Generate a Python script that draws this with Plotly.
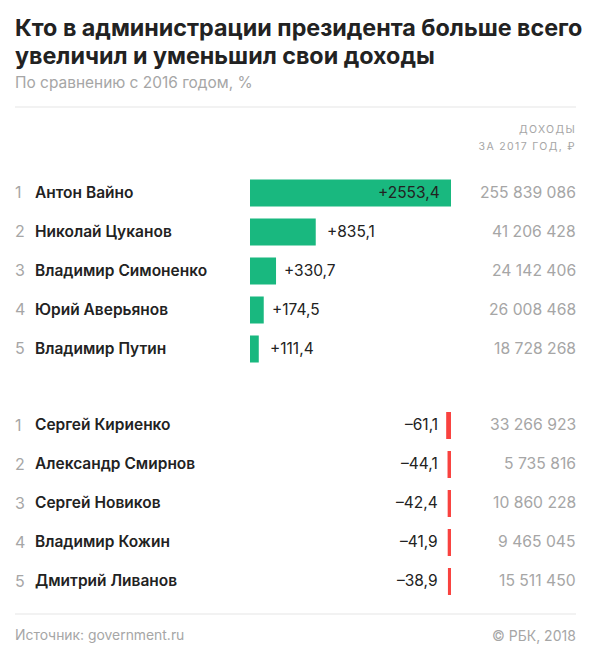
import plotly.graph_objects as go

W, H = 590, 655
TITLE_LINE_1 = "Кто в администрации президента больше всего"
TITLE_LINE_2 = "увеличил и уменьшил свои доходы"
SUBTITLE = "По сравнению с 2016 годом, %"
up_names = ["Антон Вайно", "Николай Цуканов", "Владимир Симоненко", "Юрий Аверьянов", "Владимир Путин"]
up_values = [2553.4, 835.1, 330.7, 174.5, 111.4]
up_labels = ["+2553,4", "+835,1", "+330,7", "+174,5", "+111,4"]
up_income = ["255 839 086", "41 206 428", "24 142 406", "26 008 468", "18 728 268"]
down_names = ["Сергей Кириенко", "Александр Смирнов", "Сергей Новиков", "Владимир Кожин", "Дмитрий Ливанов"]
down_values = [-61.1, -44.1, -42.4, -41.9, -38.9]
down_labels = ["–61,1", "–44,1", "–42,4", "–41,9", "–38,9"]
down_income = ["33 266 923", "5 735 816", "10 860 228", "9 465 045", "15 511 450"]
ranks = ["1", "2", "3", "4", "5"]
HEAD_1, HEAD_2 = "ДОХОДЫ", "ЗА 2017 ГОД, ₽"

FONT = "Inter"
GREEN, RED = "#19b87f", "#f9423f"
DARK, GREY, LIGHT = "#222222", "#a6a6a6", "#eeeeee"
px_x = lambda p: p / W
px_y = lambda p: 1 - p / H

fig = go.Figure()
fig.add_bar(y=up_names, x=up_values, orientation="h", marker_color=GREEN, marker_line_width=0,
            width=27 / 39, xaxis="x", yaxis="y", hoverinfo="skip")
fig.add_bar(y=down_names, x=down_values, orientation="h", marker_color=RED, marker_line_width=0,
            width=27 / 39, xaxis="x2", yaxis="y2", hoverinfo="skip")

ann = []
def text(x, y, t, size, color, anchor="left", weight=400, xref="paper", yref="paper", xshift=0, yshift=0):
    ann.append(dict(x=x, y=y, text=t, xref=xref, yref=yref, xanchor=anchor, yanchor="middle", showarrow=False,
                    xshift=xshift, yshift=yshift, borderpad=0, borderwidth=0,
                    font=dict(family=FONT, size=size, color=color, weight=weight)))

for suffix, names, income in (("", up_names, up_income), ("2", down_names, down_income)):
    for r, n, inc in zip(ranks, names, income):
        yr = "y" + suffix
        text(px_x(15), n, r, 16, GREY, yref=yr, yshift=1)
        text(px_x(35), n, n, 15.5, DARK, weight=600, yref=yr, yshift=1)
        text(px_x(576), n, inc, 15.7, GREY, anchor="right", yref=yr, yshift=1)

up_gaps = [-11, 11, 8, 8, 11]
for i, (n, v, l) in enumerate(zip(up_names, up_values, up_labels)):
    text(v, n, l, 15.5, DARK, anchor="right" if i == 0 else "left", xref="x", yref="y", xshift=up_gaps[i], yshift=1)
for n, l in zip(down_names, down_labels):
    text(0, n, l, 15.5, DARK, anchor="right", xref="x2", yref="y2", xshift=-13, yshift=1)

# letter-spaced column heading: the extra width is added symmetrically around the text centre
SPACING = 1.35
text(px_x(576), px_y(129), HEAD_1, 10.5, GREY, anchor="right", xshift=-len(HEAD_1) * SPACING / 2)
text(px_x(576), px_y(146), HEAD_2, 10.5, GREY, anchor="right", xshift=-len(HEAD_2) * SPACING / 2)
text(px_x(15), px_y(635), "Источник: government.ru", 13.9, GREY)
text(px_x(576), px_y(635), "© РБК, 2018", 14, GREY, anchor="right")
text(px_x(15), px_y(83), SUBTITLE, 15.45, GREY)
text(px_x(15), px_y(55), TITLE_LINE_2, 23.3, DARK, weight=700)

line = dict(type="line", xref="paper", yref="paper", x0=px_x(15), x1=px_x(576), line=dict(color=LIGHT, width=1.5))
shapes = [dict(line, y0=px_y(107), y1=px_y(107)), dict(line, y0=px_y(614), y1=px_y(614))]

scale = 201 / 2553.4
neg_span = 61.1 * 1.5
fig.update_layout(
    width=W, height=H, margin=dict(l=0, r=0, t=0, b=0), paper_bgcolor="white", plot_bgcolor="white",
    showlegend=False, annotations=ann, shapes=shapes,
    title=dict(text=TITLE_LINE_1, x=px_x(15), y=px_y(28), xanchor="left", yanchor="middle",
               font=dict(family=FONT, size=23.3, color=DARK, weight=700)),
    xaxis=dict(visible=False, domain=[px_x(250), px_x(451)], range=[0, 2553.4], fixedrange=True),
    yaxis=dict(visible=False, domain=[px_y(368.5), px_y(173.5)], categoryorder="array", categoryarray=up_names,
               autorange="reversed", fixedrange=True),
    xaxis2=dict(visible=False, domain=[px_x(451 - neg_span * scale), px_x(451)], range=[-neg_span, 0],
                anchor="y2", fixedrange=True),
    yaxis2=dict(visible=False, domain=[px_y(601), px_y(406)], categoryorder="array", categoryarray=down_names,
                autorange="reversed", anchor="x2", fixedrange=True),
)
post = """
document.body.style.margin='0';
document.querySelectorAll('.annotation-text').forEach(function(t){
  if (t.textContent === %r || t.textContent === %r) { t.style.letterSpacing = '%spx'; }
});
""" % (HEAD_1, HEAD_2, SPACING)
fig.write_html("out.html", config={"displayModeBar": False}, post_script=post)
